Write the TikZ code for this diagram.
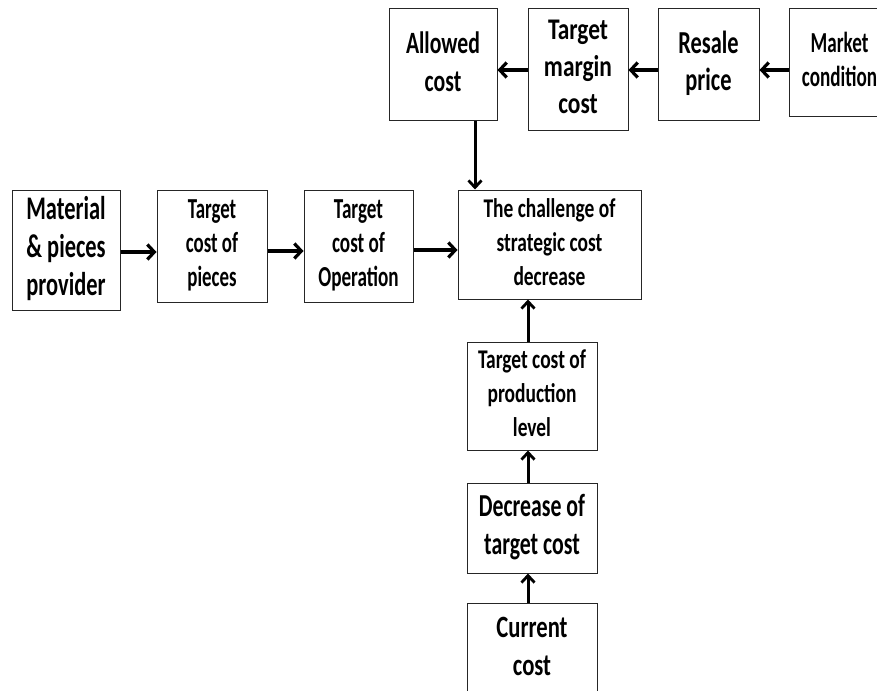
\documentclass[tikz,border=0pt]{standalone}
\usepackage{fontspec}
\usepackage{graphicx}
\setmainfont{Carlito}
\usetikzlibrary{arrows.meta}
\newcommand\bxtext[4]{\scalebox{#1}[1]{\fontsize{#2}{#3}\selectfont\bfseries\begin{tabular}{@{}c@{}}#4\end{tabular}}}
\tikzset{
  box/.style={draw=black!85, line width=1pt, inner sep=0pt, fill=white},
  harr/.style={line width=4pt, -{Straight Barb[length=7pt, width=15pt, line width=3.2pt]}},
  varr/.style={line width=3pt, -{Straight Barb[length=7pt, width=13pt, line width=2.8pt]}},
}
\begin{document}
\begin{tikzpicture}[x=1pt, y=-1pt]
\useasboundingbox (0,0) rectangle (877,690);
\clip (0,0) rectangle (877,690);
\fill[white] (0,0) rectangle (877,690);
% top row
\node[box, minimum width=108, minimum height=111] (allowed) at (443,64.5)
  {\bxtext{.70}{31}{38}{Allowed\\cost}};
\node[box, minimum width=100, minimum height=121] (margin) at (578,69.5)
  {\bxtext{.78}{30}{37}{Target\\margin\\cost}};
\node[box, minimum width=101, minimum height=111] (resale) at (708.5,64.5)
  {\bxtext{.70}{32}{37}{Resale\\price}};
\node[box, minimum width=101, minimum height=108] (market) at (839.5,63)
  {\bxtext{.66}{29}{34}{Market\\condition}};
% middle row
\node[box, minimum width=108, minimum height=120] (material) at (66,250)
  {\bxtext{.68}{33}{38}{Material\\\& pieces\\provider}};
\node[box, minimum width=110, minimum height=112] (pieces) at (212,246)
  {\bxtext{.65}{29}{34}{Target\\cost of\\pieces}};
\node[box, minimum width=109, minimum height=112] (oper) at (358.5,246)
  {\bxtext{.66}{29}{34}{Target\\cost of\\Operation}};
\node[box, minimum width=183, minimum height=109] (chal) at (549.5,244.5)
  {\bxtext{.72}{27}{34}{The challenge of\\strategic cost\\decrease}};
% column
\node[box, minimum width=130, minimum height=108] (prod) at (532,396)
  {\bxtext{.72}{27}{34}{Target cost of\\production\\level}};
\node[box, minimum width=130, minimum height=90] (decr) at (532,528)
  {\bxtext{.68}{32}{38}{Decrease of\\target cost}};
\node[box, minimum width=130, minimum height=92] (curr) at (532,649)
  {\bxtext{.73}{31}{38}{Current\\cost}};
% arrows top row
\draw[harr] (market.west |- 0,70) -- (resale.east |- 0,70);
\draw[harr] (resale.west |- 0,70) -- (margin.east |- 0,70);
\draw[harr] (margin.west |- 0,70) -- (allowed.east |- 0,70);
\draw[varr] (allowed.south -| 475,0) -- (chal.north -| 475,0);
% arrows middle row
\draw[harr] (material.east |- 0,252) -- (pieces.west |- 0,252);
\draw[harr] (pieces.east |- 0,251) -- (oper.west |- 0,251);
\draw[harr] (oper.east |- 0,250) -- (chal.west |- 0,250);
% column arrows
\draw[varr] (prod.north -| 528,0) -- (chal.south -| 528,0);
\draw[varr] (decr.north -| 528,0) -- (prod.south -| 528,0);
\draw[varr] (curr.north -| 528,0) -- (decr.south -| 528,0);
\end{tikzpicture}
\end{document}
